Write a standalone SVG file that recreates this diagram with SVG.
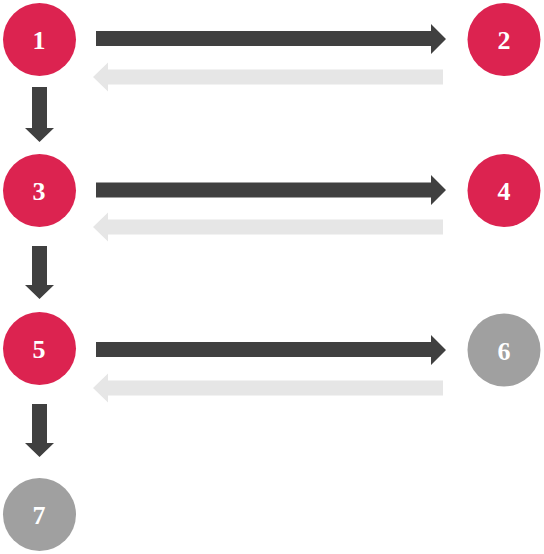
<svg xmlns="http://www.w3.org/2000/svg" width="544" height="554" viewBox="0 0 544 554">
<style>
.red{fill:#DC2350}
.gray{fill:#A0A0A0}
.dark{fill:#404040}
.light{fill:#E6E6E6}
.lbl{fill:#FFFFFF;font-family:"Liberation Serif","Times New Roman",serif;font-weight:bold;font-size:26px;text-anchor:middle}
</style>
<rect width="544" height="554" fill="#FFFFFF"/>
<g id="connectors">
<polygon class="dark" points="96,31 431,31 431,24 446,39 431,54 431,46 96,46"/>
<polygon class="light" points="443,69.5 108,69.5 108,62.5 93,77 108,91.5 108,84.5 443,84.5"/>
<polygon class="dark" points="96,182.5 431,182.5 431,175 446,190 431,205 431,197.5 96,197.5"/>
<polygon class="light" points="443,219.5 108,219.5 108,212.5 93,227 108,241.5 108,234.5 443,234.5"/>
<polygon class="dark" points="96,342 431,342 431,335 446,350 431,365 431,357 96,357"/>
<polygon class="light" points="443,380.5 108,380.5 108,373.5 93,388 108,402.5 108,395.5 443,395.5"/>
<polygon class="dark" points="32,87 47,87 47,128 54,128 39.5,142 25,128 32,128"/>
<polygon class="dark" points="32,246 47,246 47,285 54,285 39.5,299 25,285 32,285"/>
<polygon class="dark" points="32,404 47,404 47,443 54,443 39.5,457 25,443 32,443"/>
</g>
<g id="node1"><circle class="red" cx="39.5" cy="39.5" r="36.5"/><text class="lbl" x="39" y="49">1</text></g>
<g id="node2"><circle class="red" cx="504" cy="39.5" r="36.5"/><text class="lbl" x="504" y="49">2</text></g>
<g id="node3"><circle class="red" cx="39.5" cy="190.5" r="36.5"/><text class="lbl" x="39" y="200">3</text></g>
<g id="node4"><circle class="red" cx="504" cy="190.5" r="36.5"/><text class="lbl" x="504" y="200">4</text></g>
<g id="node5"><circle class="red" cx="39.5" cy="348.5" r="36.5"/><text class="lbl" x="39" y="358">5</text></g>
<g id="node6"><circle class="gray" cx="504" cy="350" r="36.5"/><text class="lbl" x="504" y="359.5">6</text></g>
<g id="node7"><circle class="gray" cx="39.5" cy="514.5" r="36.5"/><text class="lbl" x="39" y="524">7</text></g>
</svg>
